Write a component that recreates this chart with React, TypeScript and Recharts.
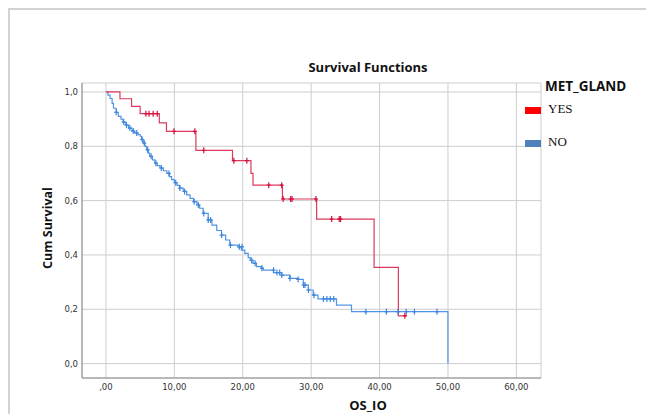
import React from "react";
import {
  ComposedChart,
  Line,
  Scatter,
  XAxis,
  YAxis,
  CartesianGrid,
} from "recharts";

// Kaplan-Meier steps: [time, cum survival]
const yesSteps: [number, number][] = [
  [0, 1.0], [2.05, 0.975], [3.75, 0.947], [5.0, 0.92], [7.8, 0.886],
  [8.85, 0.855], [13.15, 0.785], [18.5, 0.747], [21.2, 0.7], [21.5, 0.657],
  [25.8, 0.606], [30.8, 0.532], [39.2, 0.354], [42.75, 0.176], [44.0, 0.176],
];

const noSteps: [number, number][] = [
  [0, 1.0], [0.3, 0.988], [0.6, 0.976], [0.9, 0.958], [1.1, 0.94], [1.5, 0.925],
  [1.8, 0.91], [2.2, 0.9], [2.5, 0.889], [2.9, 0.878], [3.3, 0.867], [3.8, 0.856],
  [4.2, 0.849], [4.7, 0.843], [5.0, 0.837], [5.2, 0.825], [5.45, 0.812], [5.7, 0.8],
  [5.95, 0.787], [6.2, 0.775], [6.4, 0.763], [6.8, 0.75], [7.15, 0.738], [7.5, 0.729],
  [7.9, 0.72], [8.4, 0.71], [8.9, 0.7], [9.3, 0.688], [9.6, 0.677], [10.0, 0.666],
  [10.4, 0.656], [10.8, 0.646], [11.3, 0.634], [11.8, 0.621], [12.3, 0.608],
  [12.8, 0.596], [13.3, 0.584], [13.7, 0.572], [14.2, 0.553], [14.95, 0.529],
  [15.5, 0.51], [16.2, 0.49], [16.9, 0.473], [17.5, 0.455], [18.1, 0.436],
  [19.3, 0.43], [19.8, 0.418], [20.3, 0.406], [20.8, 0.39], [21.1, 0.38],
  [21.5, 0.369], [22.0, 0.357], [22.8, 0.351], [23.0, 0.344], [24.5, 0.335],
  [25.7, 0.326], [26.9, 0.314], [28.1, 0.31], [28.85, 0.289], [29.6, 0.271],
  [30.3, 0.252], [31.0, 0.238], [33.7, 0.215], [35.9, 0.191], [50.0, 0.0],
];

// censored cases (+ marks)
const yesCensored: [number, number][] = [
  [5.85, 0.92], [6.3, 0.92], [6.9, 0.92], [7.5, 0.92], [9.95, 0.855], [13.0, 0.855],
  [14.3, 0.785], [18.7, 0.747], [20.6, 0.747], [23.8, 0.657], [25.7, 0.657],
  [25.9, 0.606], [27.0, 0.606], [27.2, 0.606], [30.7, 0.606], [33.0, 0.532],
  [34.1, 0.532], [34.3, 0.532], [43.7, 0.176],
];

const noCensored: [number, number][] = [
  [1.5, 0.925], [2.6, 0.889], [3.0, 0.878], [3.5, 0.867], [4.0, 0.856], [4.5, 0.849],
  [5.3, 0.825], [5.6, 0.812], [6.1, 0.787], [6.6, 0.763], [7.3, 0.738], [8.1, 0.72],
  [9.2, 0.7], [10.2, 0.666], [10.8, 0.646], [11.5, 0.634], [12.9, 0.596], [13.5, 0.584],
  [14.3, 0.553], [14.95, 0.529], [15.3, 0.529], [16.9, 0.473], [18.2, 0.436],
  [19.5, 0.43], [19.9, 0.43], [21.3, 0.38], [21.8, 0.369], [22.8, 0.351], [24.5, 0.344],
  [25.0, 0.335], [25.4, 0.335], [25.7, 0.326], [26.9, 0.314], [28.1, 0.31],
  [28.9, 0.289], [29.1, 0.289], [29.6, 0.271], [30.4, 0.252], [31.8, 0.238],
  [32.3, 0.238], [32.8, 0.238], [33.3, 0.238], [38.0, 0.191], [41.0, 0.191],
  [42.7, 0.191], [43.9, 0.191], [45.1, 0.191], [48.4, 0.191],
];

const xTicks = [0, 10, 20, 30, 40, 50, 60];
const xTickLabels = [",00", "10,00", "20,00", "30,00", "40,00", "50,00", "60,00"];
const yTicks = [0, 0.2, 0.4, 0.6, 0.8, 1.0];
const yTickLabels = ["0,0", "0,2", "0,4", "0,6", "0,8", "1,0"];

const RED = "#dc3a5c";
const RED_MARK = "#d3123f";
const BLUE = "#4f95e3";
const BLUE_MARK = "#3f86dc";

const toRows = (arr: [number, number][]) => arr.map(([t, s]) => ({ t, s }));

const makeCross = (color: string) => (props: any) => {
  const { cx, cy } = props;
  if (cx == null || cy == null) return <g />;
  return (
    <g stroke={color} strokeWidth={1.2}>
      <line x1={cx} y1={cy - 3} x2={cx} y2={cy + 3} />
      <line x1={cx - 2} y1={cy} x2={cx + 2} y2={cy} />
    </g>
  );
};

const tickFont = { fontSize: 8.5, fill: "#333", fontFamily: "DejaVu Sans" };

export default function App() {
  return (
    <div
      style={{
        position: "absolute",
        left: 0,
        top: 0,
        width: 646,
        height: 414,
        background: "#fff",
        overflow: "hidden",
      }}
    >
      <div
        style={{
          position: "absolute",
          left: 8,
          top: 8,
          right: -4,
          bottom: -4,
          borderLeft: "2px solid #d2d2d2",
          borderTop: "2px solid #d2d2d2",
        }}
      />
      <ComposedChart
        width={646}
        height={414}
        margin={{ top: 83, right: 105, bottom: 6, left: 42 }}
        style={{ position: "absolute", left: 0, top: 0 }}
      >
        <CartesianGrid stroke="#cdcdcd" strokeWidth={1} />
        <XAxis
          type="number"
          dataKey="t"
          domain={[-3.5, 63.6]}
          ticks={xTicks}
          tickFormatter={(v: number) => xTickLabels[xTicks.indexOf(v)]}
          tick={tickFont}
          tickLine={false}
          tickSize={0}
          tickMargin={6}
          axisLine={{ stroke: "#8a8a8a" }}
          height={30}
          allowDataOverflow
        />
        <YAxis
          type="number"
          dataKey="s"
          domain={[-0.053, 1.033]}
          ticks={yTicks}
          tickFormatter={(v: number) => yTickLabels[yTicks.indexOf(v)]}
          tick={tickFont}
          tickLine={false}
          tickSize={0}
          tickMargin={4}
          axisLine={{ stroke: "#8a8a8a" }}
          width={40}
          allowDataOverflow
        />
        <Line
          data={toRows(noSteps)}
          dataKey="s"
          type="stepAfter"
          stroke={BLUE}
          strokeWidth={1.2}
          dot={false}
          isAnimationActive={false}
        />
        <Line
          data={toRows(yesSteps)}
          dataKey="s"
          type="stepAfter"
          stroke={RED}
          strokeWidth={1.2}
          dot={false}
          isAnimationActive={false}
        />
        <Scatter
          data={toRows(noCensored)}
          dataKey="s"
          shape={makeCross(BLUE_MARK)}
          isAnimationActive={false}
        />
        <Scatter
          data={toRows(yesCensored)}
          dataKey="s"
          shape={makeCross(RED_MARK)}
          isAnimationActive={false}
        />
      </ComposedChart>

      <div
        style={{
          position: "absolute",
          left: 288,
          width: 160,
          top: 58,
          textAlign: "center",
          fontFamily: "Open Sans",
          fontWeight: 700,
          fontSize: 13,
          color: "#111",
        }}
      >
        Survival Functions
      </div>
      <div
        style={{
          position: "absolute",
          left: 318,
          width: 100,
          top: 396,
          textAlign: "center",
          fontFamily: "Open Sans",
          fontWeight: 700,
          fontSize: 13,
          color: "#111",
        }}
      >
        OS_IO
      </div>
      <div
        style={{
          position: "absolute",
          left: 47,
          top: 228,
          transform: "translate(-50%, -50%) rotate(-90deg)",
          whiteSpace: "nowrap",
          fontFamily: "Open Sans",
          fontWeight: 700,
          fontSize: 12.5,
          color: "#111",
        }}
      >
        Cum Survival
      </div>

      <div
        style={{
          position: "absolute",
          left: 545,
          top: 77,
          fontFamily: "Open Sans",
          fontWeight: 700,
          fontSize: 13.5,
          color: "#111",
        }}
      >
        MET_GLAND
      </div>
      <div style={{ position: "absolute", left: 525, top: 107, width: 16, height: 7, background: "#ff0000" }} />
      <div
        style={{
          position: "absolute",
          left: 548,
          top: 101,
          fontFamily: "Liberation Serif",
          fontSize: 13,
          color: "#111",
        }}
      >
        YES
      </div>
      <div style={{ position: "absolute", left: 525, top: 140, width: 16, height: 7, background: "#4f81bd" }} />
      <div
        style={{
          position: "absolute",
          left: 548,
          top: 134,
          fontFamily: "Liberation Serif",
          fontSize: 13,
          color: "#111",
        }}
      >
        NO
      </div>
    </div>
  );
}
